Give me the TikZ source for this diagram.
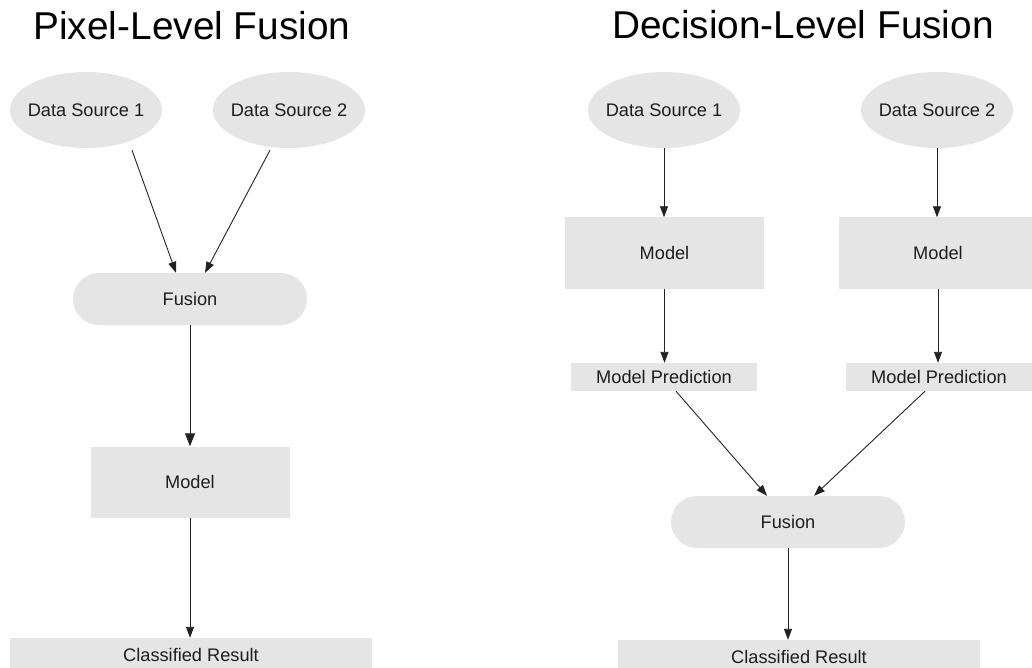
\documentclass[tikz,border=0pt]{standalone}
\usepackage{fontspec}
\setmainfont{Liberation Sans}
\usetikzlibrary{shapes.geometric,arrows.meta,calc}

\definecolor{boxfill}{HTML}{E5E5E5}
\definecolor{ink}{HTML}{1E1E1E}
\definecolor{wire}{HTML}{222222}

\tikzset{
  base/.style={fill=boxfill, draw=none, inner sep=0pt, text=ink,
               font=\fontsize{18.2}{21}\selectfont},
  % negative horizontal padding keeps the ellipse at its fixed width
  source/.style={base, ellipse, inner xsep=-10pt, minimum width=152pt, minimum height=76pt},
  pill/.style={base, rectangle, rounded corners=26pt, minimum width=234pt, minimum height=52pt},
  modelbox/.style={base, rectangle, minimum width=199pt, minimum height=71pt},
  predbox/.style={base, rectangle, minimum width=186pt, minimum height=28pt},
  resultbox/.style={base, rectangle, minimum width=362pt, minimum height=40pt},
  title/.style={anchor=base, text=black, inner sep=0pt, font=\fontsize{38.8}{44}\selectfont},
  link/.style={draw=wire, line width=0.9pt, -{Triangle[length=11pt,width=8pt]}},
}

\begin{document}
\begin{tikzpicture}[x=1pt,y=-1pt]
\useasboundingbox (0,0) rectangle (1032,668);
\clip (0,0) rectangle (1032,668);

% ---------- pixel-level fusion ----------
\node[title] (ptitle) at (192,40) {Pixel-Level Fusion};
\node[source] (ps1) at (86,110) {Data Source 1};
\node[source] (ps2) at (289,110) {Data Source 2};
\node[pill] (pfus) at (190,299) {Fusion};
\node[modelbox] (pmod) at (190,482) {Model};
\node[resultbox] (pres) at (191,658) {};
\node[base, fill=none, anchor=base] (prestext) at (191,661) {Classified Result};

\draw[link] ($(ps1.south)+(46,2)$) -- ($(pfus.north)+(-14,0)$);
\draw[link] ($(ps2.south)+(-19,2)$) -- ($(pfus.north)+(15,0)$);
\draw[link, -{Triangle[length=13pt,width=10pt]}] (pfus.south) -- (pmod.north);
\draw[link] (pmod.south) -- (pmod.south |- pres.north);

% ---------- decision-level fusion ----------
\node[title] (dtitle) at (803,39) {Decision-Level Fusion};
\node[source] (ds1) at (664,110) {Data Source 1};
\node[source] (ds2) at (937,110) {Data Source 2};
\node[modelbox] (dmod1) at (664.5,253) {Model};
\node[modelbox] (dmod2) at (938,253) {Model};
\node[predbox] (dpred1) at (664,377) {Model Prediction};
\node[predbox] (dpred2) at (939,377) {Model Prediction};
\node[pill] (dfus) at (788,522) {Fusion};
\node[resultbox] (dres) at (799,660) {};
\node[base, fill=none, anchor=base] (drestext) at (799,663) {Classified Result};

\draw[link] (ds1.south) -- (ds1.south |- dmod1.north);
\draw[link] (ds2.south) -- (ds2.south |- dmod2.north);
\draw[link] (dmod1.south) -- (dmod1.south |- dpred1.north);
\draw[link] (dmod2.south) -- (dmod2.south |- dpred2.north);
\draw[link] ($(dpred1.south)+(12,0)$) -- ($(dfus.north)+(-21,0)$);
\draw[link] ($(dpred2.south)+(-14,0)$) -- ($(dfus.north)+(26,0)$);
\draw[link] (dfus.south) -- (dfus.south |- dres.north);
\end{tikzpicture}
\end{document}
